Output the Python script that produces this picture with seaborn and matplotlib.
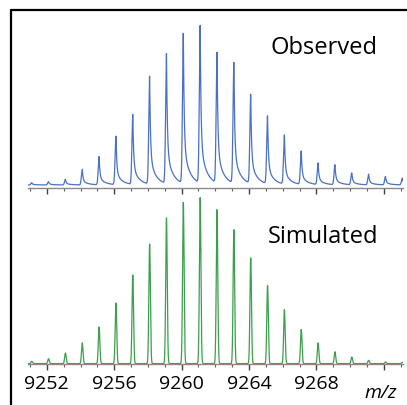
import numpy as np
import matplotlib
matplotlib.use("Agg")
import matplotlib.pyplot as plt
from matplotlib.lines import Line2D
from matplotlib.ticker import MultipleLocator
import seaborn as sns

# peak positions (m/z) and relative heights
peak_mz = [9251.1, 9252.1, 9253.1, 9254.1, 9255.1, 9256.1, 9257.1, 9258.1,
           9259.1, 9260.1, 9261.1, 9262.1, 9263.1, 9264.1, 9265.1, 9266.1,
           9267.1, 9268.1, 9269.1, 9270.1, 9271.1, 9272.1, 9273.1]
observed = [1.5, 2.1, 3.6, 10.0, 18.0, 30.8, 44.6, 68.6, 82.6, 95.3, 100.0, 83.0,
            76.6, 56.7, 43.1, 31.2, 21.2, 13.8, 12.7, 7.5, 6.8, 5.3, 4.3]
simulated = [1.4, 3.0, 6.4, 12.5, 22.1, 36.6, 53.4, 72.1, 87.8, 97.2, 100.0, 92.8,
             80.7, 63.7, 47.2, 32.5, 20.5, 12.5, 7.2, 4.0, 2.0, 1.0, 0.8]
major_ticks = [9252, 9256, 9260, 9264, 9268, 9272]
tick_labels = ['9252', '9256', '9260', '9264', '9268', '']
obs_baseline = 1.9

xmin, xmax = 9250.88, 9273.14
grid = np.linspace(xmin, xmax, 5000)


def profile(centres, heights, tailed):
    y = np.zeros_like(grid)
    for c, h in zip(centres, heights):
        d = grid - c
        if tailed:
            left = np.exp(-0.5 * (d / 0.05) ** 2)
            dp = np.clip(d, 0, None)
            right = 0.75 * np.exp(-dp / 0.05) + 0.25 * np.exp(-dp / 0.35)
            shape = np.where(d < 0, left, right)
        else:
            shape = np.exp(-0.5 * (d / 0.045) ** 2)
        y += h * shape
    return y


obs_y = profile(peak_mz, observed, True) + obs_baseline
sim_y = profile(peak_mz, simulated, False)

sns.set_style("white")
plt.rcParams['font.family'] = ['Open Sans', 'DejaVu Sans']

fig = plt.figure(figsize=(4.07, 4.05), dpi=100)
W, H = 407, 405
ax1 = fig.add_axes([28 / W, 1 - 188 / H, 375 / W, 168 / H])
ax2 = fig.add_axes([28 / W, 1 - 364.3 / H, 375 / W, 169.3 / H])

sns.lineplot(x=grid, y=obs_y, ax=ax1, color='#4a70c8', linewidth=0.9)
sns.lineplot(x=grid, y=sim_y, ax=ax2, color='#3aa04c', linewidth=0.9)

ax1.set_ylim(0, 106.8)
ax2.set_ylim(-0.4, 101.6)

for ax in (ax1, ax2):
    ax.set_xlim(xmin, xmax)
    ax.set_facecolor('none')
    for s in ('top', 'right', 'left'):
        ax.spines[s].set_visible(False)
    ax.spines['bottom'].set_color('#8a8a8a')
    ax.spines['bottom'].set_linewidth(1.0)
    ax.set_yticks([])
    ax.set_xticks(major_ticks)
    ax.set_xticklabels(tick_labels)
    ax.xaxis.set_minor_locator(MultipleLocator(1))
    ax.tick_params(axis='x', which='major', bottom=True, length=4, width=1,
                   color='#404040', labelsize=14, labelcolor='black', pad=4)
    ax.tick_params(axis='x', which='minor', bottom=True, length=2.5, width=0.8,
                   color='#606060')
    ax.set_xlabel('')
    ax.set_ylabel('')

ax1.tick_params(axis='x', labelbottom=False)

fig.text(270 / W, 1 - 54.5 / H, 'Observed', fontsize=17, color='black', va='baseline', ha='left')
fig.text(268 / W, 1 - 242.7 / H, 'Simulated', fontsize=17, color='black', va='baseline', ha='left')
fig.text(364 / W, 1 - 398 / H, 'm/z', fontsize=14, color='black', style='italic',
         va='baseline', ha='left')

# frame lines (left and top)
fig.add_artist(Line2D([10.5 / W, 10.5 / W], [0, 1 - 9.5 / H], color='black', linewidth=1.6))
fig.add_artist(Line2D([10.5 / W, 1], [1 - 9.5 / H, 1 - 9.5 / H], color='black', linewidth=1.6))

fig.savefig('out.png', dpi=100)
